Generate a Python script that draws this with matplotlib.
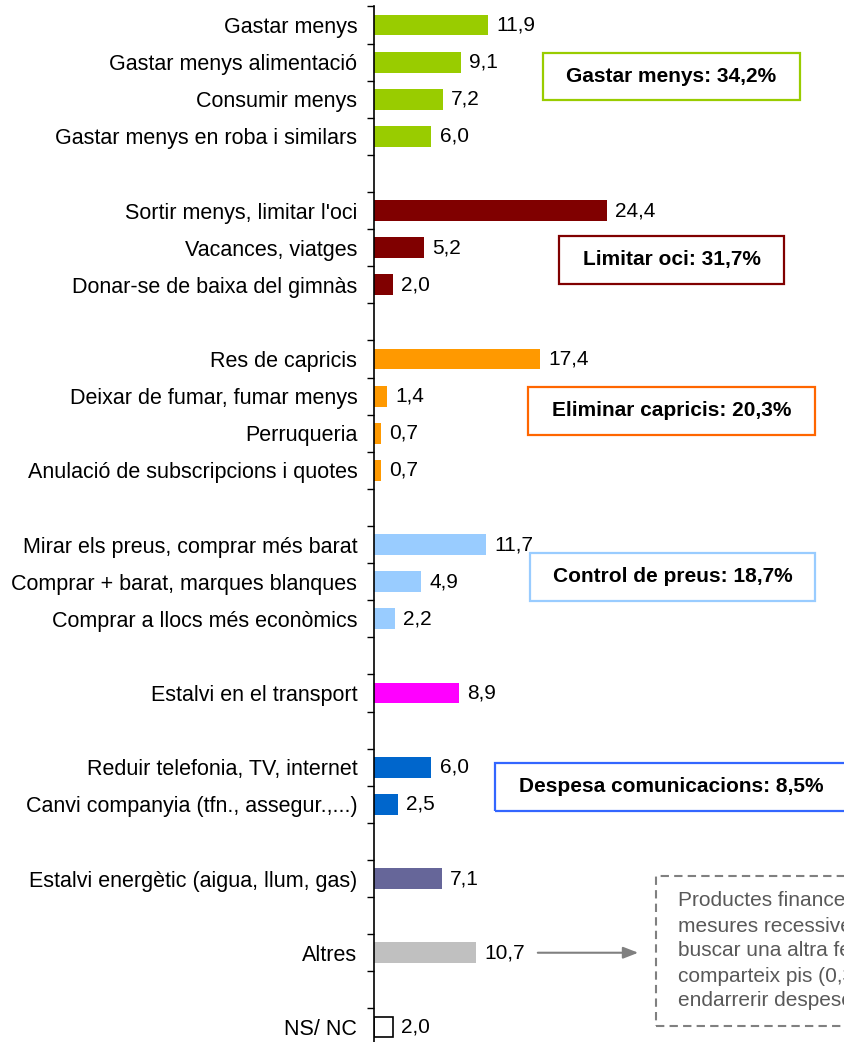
import matplotlib.pyplot as plt
from matplotlib.patches import Rectangle

plt.rcParams['font.family'] = ['Liberation Sans', 'DejaVu Sans']

# Dades per grups (cada grup separat per una fila buida)
grups = [
    ["Gastar menys", "Gastar menys alimentació", "Consumir menys",
     "Gastar menys en roba i similars"],
    ["Sortir menys, limitar l'oci", "Vacances, viatges",
     "Donar-se de baixa del gimnàs"],
    ["Res de capricis", "Deixar de fumar, fumar menys", "Perruqueria",
     "Anulació de subscripcions i quotes"],
    ["Mirar els preus, comprar més barat", "Comprar + barat, marques blanques",
     "Comprar a llocs més econòmics"],
    ["Estalvi en el transport"],
    ["Reduir telefonia, TV, internet", "Canvi companyia (tfn., assegur.,...)"],
    ["Estalvi energètic (aigua, llum, gas)"],
    ["Altres"],
    ["NS/ NC"],
]
valors = [
    [11.9, 9.1, 7.2, 6.0],
    [24.4, 5.2, 2.0],
    [17.4, 1.4, 0.7, 0.7],
    [11.7, 4.9, 2.2],
    [8.9],
    [6.0, 2.5],
    [7.1],
    [10.7],
    [2.0],
]
colors = ["#99CC00", "#800000", "#FF9900", "#99CCFF", "#FF00FF",
          "#0066CC", "#666699", "#C0C0C0", "white"]

resums = ["Gastar menys: 34,2%", "Limitar oci: 31,7%", "Eliminar capricis: 20,3%",
          "Control de preus: 18,7%", "Despesa comunicacions: 8,5%"]
resum_colors = ["#99CC00", "#800000", "#FF6600", "#99CCFF", "#3366FF"]

nota = ("Productes financers (0,6), altres\n"
        "mesures recessives (0,5), pagar menys,\n"
        "buscar una altra feina (0,4),\n"
        "comparteix pis (0,3),\n"
        "endarrerir despeses (0,2)")

W, H = 845, 1042
fig = plt.figure(figsize=(W / 100, H / 100), dpi=100)

def fx(px):
    return px / W

def fy(py):
    return 1 - py / H

# eix: linia vertical a x=374 px
x0 = 374
scale = 9.55  # px per unitat
ax = fig.add_axes([fx(x0), fy(1045.5), 1 - fx(x0), (1045.5 - 6.5) / H])

pos, labs, vals, cols = [], [], [], []
p = 0
for g, v, c in zip(grups, valors, colors):
    for lab, val in zip(g, v):
        pos.append(p)
        labs.append(lab)
        vals.append(val)
        cols.append(c)
        p += 1
    p += 1
nslots = p - 1

edges = ["black" if c == "white" else c for c in cols]
ax.barh(pos, vals, height=0.56, color=cols, edgecolor=edges,
        linewidth=[1.2 if c == "white" else 0 for c in cols])

for y, v in zip(pos, vals):
    ax.annotate(f"{v:.1f}".replace(".", ","), (v, y), xytext=(6, 0),
                textcoords="offset points", va="center", ha="left", fontsize=15)

ax.set_ylim(nslots - 0.5, -0.5)
ax.set_xlim(0, (W - x0) / scale)

ax.set_yticks([i - 0.5 for i in range(nslots + 1)])
ax.set_yticklabels([])
ax.tick_params(axis="y", which="major", length=5, width=1, direction="out")
ax.set_yticks(pos, minor=True)
ax.set_yticklabels(labs, minor=True, fontsize=15.5)
ax.tick_params(axis="y", which="minor", length=0, pad=12)
ax.set_xticks([])
for s in ["top", "right", "bottom"]:
    ax.spines[s].set_visible(False)
ax.spines["left"].set_linewidth(1.2)

# caixes resum (posicions en px)
caixes = [(543, 53, 257, 47), (559, 236, 225, 48), (528, 387, 287, 48),
          (530, 553, 285, 48), (495, 763, 360, 48)]
for (x, y, w, h), txt, ec in zip(caixes, resums, resum_colors):
    fig.patches.append(Rectangle((fx(x), fy(y + h)), w / W, h / H,
                                 transform=fig.transFigure, fill=False,
                                 edgecolor=ec, linewidth=1.6))
    cx = x + w / 2 if x + w < W else 671
    fig.text(fx(cx), fy(y + h / 2), txt,
             ha="center", va="center", fontsize=15, fontweight="bold")

# nota amb línia discontínua
fig.patches.append(Rectangle((fx(656), fy(1026)), 220 / W, 150 / H,
                             transform=fig.transFigure, fill=False,
                             edgecolor="#808080", linewidth=1.5,
                             linestyle=(0, (4, 2.5))))
fig.text(fx(678), fy(951), nota, ha="left", va="center", fontsize=15,
         color="#595959", linespacing=1.4)

# fletxa des d'Altres
ialt = labs.index("Altres")
ax.annotate("", xy=((641 - x0) / scale, pos[ialt]),
            xytext=((535 - x0) / scale, pos[ialt]),
            arrowprops=dict(arrowstyle="-|>,head_length=0.9,head_width=0.35",
                            color="#808080", lw=1.5))

fig.savefig("out.png", dpi=100)
